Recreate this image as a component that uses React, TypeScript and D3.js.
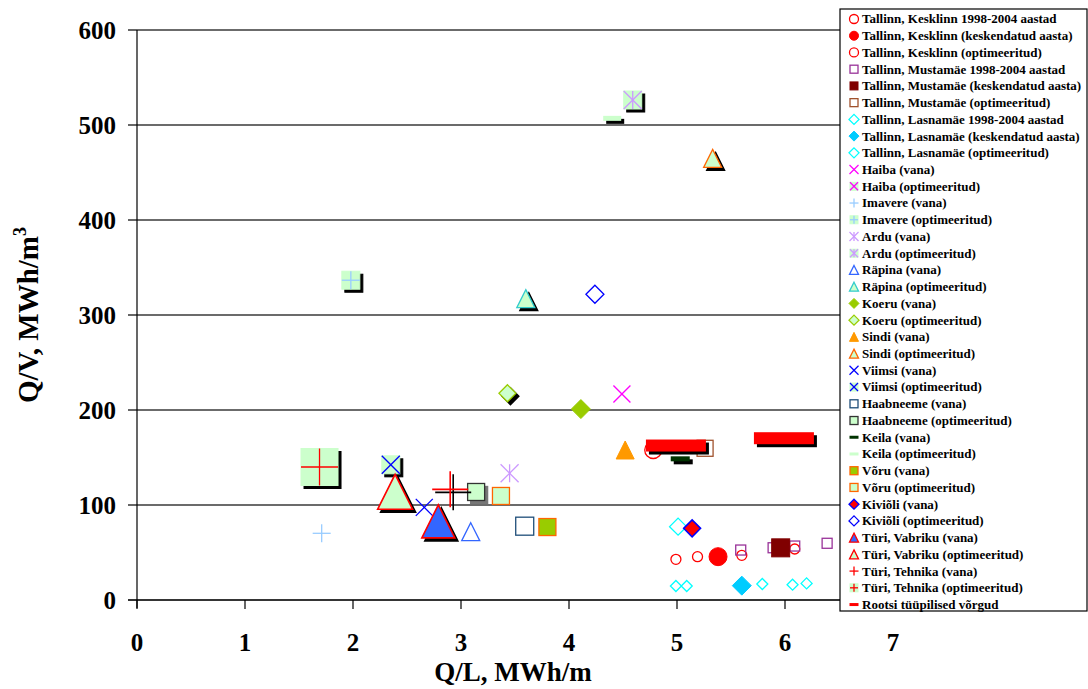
import React from 'react';
import * as d3 from 'd3';

type Pt = [number, number];

// Q/L (MWh/m) vs Q/V (MWh/m³) per district heating network
const kesklinnYears: Pt[] = [[4.99, 42.8], [5.19, 45.6], [5.6, 47.0], [6.09, 53.7]];
const kesklinnMean: Pt[] = [[5.38, 45.6]];
const kesklinnOpt: Pt[] = [[4.78, 157.9]];
const mustamaeYears: Pt[] = [[5.59, 52.6], [5.89, 55.0], [6.09, 56.8], [6.39, 59.7]];
const mustamaeMean: Pt[] = [[5.96, 54.9]];
const mustamaeOpt: Pt[] = [[5.26, 159.7]];
const lasnamaeYears: Pt[] = [[4.99, 14.7], [5.09, 14.7], [5.79, 16.8], [6.07, 16.1], [6.2, 17.5]];
const lasnamaeMean: Pt[] = [[5.6, 15.1]];
const lasnamaeOpt: Pt[] = [[5.01, 77.2]];
const haibaOld: Pt[] = [[4.49, 216.8]];
const haibaOpt: Pt[] = [];
const imavereOld: Pt[] = [[1.71, 70.2]];
const imavereOpt: Pt[] = [[1.98, 336.6]];
const arduOld: Pt[] = [[3.45, 133.4]];
const arduOpt: Pt[] = [[4.59, 526.3]];
const rapinaOld: Pt[] = [[3.09, 71.9]];
const rapinaOpt: Pt[] = [[3.6, 317.2]];
const koeruOld: Pt[] = [[4.11, 201.0]];
const koeruOpt: Pt[] = [[3.43, 217.6]];
const sindiOld: Pt[] = [[4.52, 157.9]];
const sindiOpt: Pt[] = [[5.33, 464.9]];
const viimsiOld: Pt[] = [[2.66, 97.5]];
const viimsiOpt: Pt[] = [[2.35, 142.3]];
const haabneemeOld: Pt[] = [[3.59, 77.7]];
const haabneemeOpt: Pt[] = [[3.14, 113.7]];
const keilaOld: Pt[] = [[5.03, 148.6]];
const keilaOpt: Pt[] = [[4.4, 507.0]];
const voruOld: Pt[] = [[3.8, 76.8]];
const voruOpt: Pt[] = [[3.37, 109.5]];
const kivioliOld: Pt[] = [[5.14, 75.4]];
const kivioliOpt: Pt[] = [[4.24, 321.8]];
const turiVabrikuOld: Pt[] = [[2.79, 82.8]];
const turiVabrikuOpt: Pt[] = [[2.39, 113.9]];
const turiTehnikaOld: Pt[] = [[2.9, 116.5]];
const turiTehnikaOpt: Pt[] = [[1.69, 140.0]];
const rootsi: Pt[] = [[4.99, 162.6], [5.99, 170.3]];

const xTicks = [0, 1, 2, 3, 4, 5, 6, 7];
const yTicks = [0, 100, 200, 300, 400, 500, 600];

type Shape = 'circle' | 'square' | 'diamond' | 'triangle' | 'x' | 'plus' | 'star' | 'dash';
interface Marker {
  shape: Shape;
  size: number;
  w?: number;
  h?: number;
  fill: string;
  stroke: string;
  sw?: number;
  glyph?: 'x' | 'plus' | 'star';
  glyphColor?: string;
  shadow?: string;
}

const LG = '#CCFFCC';

interface Series { name: string; data: Pt[]; m: Marker; }

const series: Series[] = [
  { name: 'Tallinn, Kesklinn 1998-2004 aastad', data: kesklinnYears, m: { shape: 'circle', size: 10, fill: 'none', stroke: '#FF0000', sw: 1.3 } },
  { name: 'Tallinn, Kesklinn (keskendatud aasta)', data: kesklinnMean, m: { shape: 'circle', size: 18, fill: '#FF0000', stroke: '#FF0000' } },
  { name: 'Tallinn, Kesklinn (optimeeritud)', data: kesklinnOpt, m: { shape: 'circle', size: 17, fill: 'none', stroke: '#FF0000', sw: 1.3 } },
  { name: 'Tallinn, Mustamäe 1998-2004 aastad', data: mustamaeYears, m: { shape: 'square', size: 10, fill: 'none', stroke: '#993399', sw: 1.3 } },
  { name: 'Tallinn, Mustamäe (keskendatud aasta)', data: mustamaeMean, m: { shape: 'square', size: 18, fill: '#800000', stroke: '#800000' } },
  { name: 'Tallinn, Mustamäe (optimeeritud)', data: mustamaeOpt, m: { shape: 'square', size: 16, fill: 'none', stroke: '#A0522D', sw: 1.3 } },
  { name: 'Tallinn, Lasnamäe 1998-2004 aastad', data: lasnamaeYears, m: { shape: 'diamond', size: 11, fill: 'none', stroke: '#00FFFF', sw: 1.3 } },
  { name: 'Tallinn, Lasnamäe (keskendatud aasta)', data: lasnamaeMean, m: { shape: 'diamond', size: 19, fill: '#00CCFF', stroke: '#00CCFF' } },
  { name: 'Tallinn, Lasnamäe (optimeeritud)', data: lasnamaeOpt, m: { shape: 'diamond', size: 17, fill: 'none', stroke: '#00FFFF', sw: 1.3 } },
  { name: 'Haiba (vana)', data: haibaOld, m: { shape: 'x', size: 17, fill: 'none', stroke: '#FF00FF', sw: 1.3 } },
  { name: 'Haiba (optimeeritud)', data: haibaOpt, m: { shape: 'square', size: 17, fill: LG, stroke: LG, glyph: 'x', glyphColor: '#FF00FF', shadow: '#000' } },
  { name: 'Imavere (vana)', data: imavereOld, m: { shape: 'plus', size: 18, fill: 'none', stroke: '#99CCFF', sw: 1.3 } },
  { name: 'Imavere (optimeeritud)', data: imavereOpt, m: { shape: 'square', size: 18, fill: LG, stroke: LG, glyph: 'plus', glyphColor: '#99CCFF', shadow: '#000' } },
  { name: 'Ardu (vana)', data: arduOld, m: { shape: 'star', size: 18, fill: 'none', stroke: '#CC99FF', sw: 1.3 } },
  { name: 'Ardu (optimeeritud)', data: arduOpt, m: { shape: 'square', size: 18, fill: LG, stroke: LG, glyph: 'star', glyphColor: '#CC99FF', shadow: '#000' } },
  { name: 'Räpina (vana)', data: rapinaOld, m: { shape: 'triangle', size: 18, fill: 'none', stroke: '#3366FF', sw: 1.3 } },
  { name: 'Räpina (optimeeritud)', data: rapinaOpt, m: { shape: 'triangle', size: 18, fill: LG, stroke: '#33CCCC', sw: 1.3, shadow: '#000' } },
  { name: 'Koeru (vana)', data: koeruOld, m: { shape: 'diamond', size: 19, fill: '#99CC00', stroke: '#99CC00' } },
  { name: 'Koeru (optimeeritud)', data: koeruOpt, m: { shape: 'diamond', size: 17, fill: LG, stroke: '#99CC00', sw: 1.3, shadow: '#000' } },
  { name: 'Sindi (vana)', data: sindiOld, m: { shape: 'triangle', size: 18, fill: '#FF9900', stroke: '#FF9900' } },
  { name: 'Sindi (optimeeritud)', data: sindiOpt, m: { shape: 'triangle', size: 18, fill: LG, stroke: '#FF6600', sw: 1.3, shadow: '#000' } },
  { name: 'Viimsi (vana)', data: viimsiOld, m: { shape: 'x', size: 17, fill: 'none', stroke: '#0000FF', sw: 1.3 } },
  { name: 'Viimsi (optimeeritud)', data: viimsiOpt, m: { shape: 'square', size: 18, fill: LG, stroke: LG, glyph: 'x', glyphColor: '#0000FF', shadow: '#000' } },
  { name: 'Haabneeme (vana)', data: haabneemeOld, m: { shape: 'square', size: 18, fill: 'none', stroke: '#1F4E79', sw: 1.3 } },
  { name: 'Haabneeme (optimeeritud)', data: haabneemeOpt, m: { shape: 'square', size: 17, fill: LG, stroke: '#333333', sw: 1.3, shadow: '#777' } },
  { name: 'Keila (vana)', data: keilaOld, m: { shape: 'dash', size: 19, w: 19, h: 5, fill: '#003300', stroke: 'none', shadow: '#000' } },
  { name: 'Keila (optimeeritud)', data: keilaOpt, m: { shape: 'dash', size: 19, w: 18, h: 5, fill: LG, stroke: 'none', shadow: '#000' } },
  { name: 'Võru (vana)', data: voruOld, m: { shape: 'square', size: 17, fill: '#99CC00', stroke: '#FF6600', sw: 1.3 } },
  { name: 'Võru (optimeeritud)', data: voruOpt, m: { shape: 'square', size: 17, fill: LG, stroke: '#FF6600', sw: 1.3 } },
  { name: 'Kiviõli (vana)', data: kivioliOld, m: { shape: 'diamond', size: 17, fill: '#FF0000', stroke: '#0000FF', sw: 1.5 } },
  { name: 'Kiviõli (optimeeritud)', data: kivioliOpt, m: { shape: 'diamond', size: 18, fill: 'none', stroke: '#0000FF', sw: 1.3 } },
  { name: 'Türi, Vabriku (vana)', data: turiVabrikuOld, m: { shape: 'triangle', size: 33, fill: '#3366FF', stroke: '#FF0000', sw: 1.6, shadow: '#000' } },
  { name: 'Türi, Vabriku (optimeeritud)', data: turiVabrikuOpt, m: { shape: 'triangle', size: 35, fill: LG, stroke: '#FF0000', sw: 1.6, shadow: '#000' } },
  { name: 'Türi, Tehnika (vana)', data: turiTehnikaOld, m: { shape: 'plus', size: 36, fill: 'none', stroke: '#FF0000', sw: 1.6, shadow: '#000' } },
  { name: 'Türi, Tehnika (optimeeritud)', data: turiTehnikaOpt, m: { shape: 'square', size: 37, fill: LG, stroke: LG, glyph: 'plus', glyphColor: '#FF0000', shadow: '#000' } },
  { name: 'Rootsi tüüpilised võrgud', data: rootsi, m: { shape: 'dash', size: 60, w: 60, h: 12, fill: '#FF0000', stroke: 'none', shadow: '#000' } },
];

const W = 1088;
const H = 689;
const plot = { left: 137, right: 893, top: 30, bottom: 600 };

const x = d3.scaleLinear().domain([0, 7]).range([plot.left, plot.right]);
const y = d3.scaleLinear().domain([0, 600]).range([plot.bottom, plot.top]);

function glyphLines(kind: 'x' | 'plus' | 'star', cx: number, cy: number, s: number, color: string, sw: number, key: string) {
  const r = s / 2;
  const lines: [number, number, number, number][] = [];
  if (kind === 'x' || kind === 'star') {
    lines.push([cx - r, cy - r, cx + r, cy + r], [cx - r, cy + r, cx + r, cy - r]);
  }
  if (kind === 'plus') {
    lines.push([cx - r, cy, cx + r, cy], [cx, cy - r, cx, cy + r]);
  }
  if (kind === 'star') {
    lines.push([cx, cy - r, cx, cy + r]);
  }
  return lines.map((l, i) => (
    <line key={`${key}-${i}`} x1={l[0]} y1={l[1]} x2={l[2]} y2={l[3]} stroke={color} strokeWidth={sw} />
  ));
}

function shapeEl(m: Marker, cx: number, cy: number, fill: string, stroke: string, key: string) {
  const s = m.size;
  const r = s / 2;
  const sw = m.sw ?? 1;
  switch (m.shape) {
    case 'circle':
      return <circle key={key} cx={cx} cy={cy} r={r} fill={fill} stroke={stroke} strokeWidth={sw} />;
    case 'square':
      return <rect key={key} x={cx - r} y={cy - r} width={s} height={s} fill={fill} stroke={stroke} strokeWidth={sw} />;
    case 'diamond':
      return <path key={key} d={`M${cx},${cy - r}L${cx + r},${cy}L${cx},${cy + r}L${cx - r},${cy}Z`} fill={fill} stroke={stroke} strokeWidth={sw} />;
    case 'triangle':
      return <path key={key} d={`M${cx},${cy - r}L${cx + r},${cy + r}L${cx - r},${cy + r}Z`} fill={fill} stroke={stroke} strokeWidth={sw} strokeLinejoin="miter" />;
    case 'dash': {
      const w = m.w ?? s;
      const h = m.h ?? 3;
      return <rect key={key} x={cx - w / 2} y={cy - h / 2} width={w} height={h} fill={fill} stroke="none" />;
    }
    default:
      return <g key={key}>{glyphLines(m.shape as 'x' | 'plus' | 'star', cx, cy, s, stroke, sw, key)}</g>;
  }
}

function renderMarker(m: Marker, cx: number, cy: number, key: string, legend = false) {
  const parts: React.ReactNode[] = [];
  const off = 3;
  if (m.shadow && !legend) {
    const sc = m.shadow;
    if (m.shape === 'x' || m.shape === 'plus' || m.shape === 'star') {
      parts.push(shapeEl(m, cx + off, cy + off, 'none', sc, `${key}-sh`));
    } else {
      parts.push(shapeEl(m, cx + off, cy + off, sc, sc, `${key}-sh`));
    }
  }
  parts.push(shapeEl(m, cx, cy, m.fill, m.stroke, `${key}-m`));
  if (m.glyph) {
    parts.push(<g key={`${key}-g`}>{glyphLines(m.glyph, cx, cy, m.size, m.glyphColor ?? '#000', 1.3, `${key}-gl`)}</g>);
  }
  return <g key={key}>{parts}</g>;
}

function legendMarker(m: Marker): Marker {
  const base = { ...m, sw: Math.min(m.sw ?? 1, 1.3) };
  switch (m.shape) {
    case 'circle': return { ...base, size: 9 };
    case 'square': return { ...base, size: 8 };
    case 'diamond': return { ...base, size: 10 };
    case 'triangle': return { ...base, size: 9 };
    case 'dash': return { ...base, size: 9, w: 9, h: 3 };
    default: return { ...base, size: 9 };
  }
}

export default function App() {
  const font = '"Liberation Serif", "Times New Roman", serif';
  const legendTop = 19;
  const legendStep = 16.73;
  return (
    <svg width={W} height={H} style={{ position: 'absolute', left: 0, top: 0, background: '#fff' }} fontFamily={font}>
      <rect x={0} y={0} width={W} height={H} fill="#fff" />
      {/* horizontal gridlines */}
      {yTicks.map((t) => (
        <line key={`g${t}`} x1={plot.left} x2={plot.right} y1={y(t)} y2={y(t)} stroke="#3a3a3a" strokeWidth={1.4} />
      ))}
      {/* axes */}
      <line x1={plot.left} x2={plot.left} y1={plot.top} y2={plot.bottom + 8} stroke="#000" strokeWidth={1.2} />
      <line x1={plot.left - 9} x2={plot.right} y1={plot.bottom} y2={plot.bottom} stroke="#000" strokeWidth={1.2} />
      {yTicks.map((t) => (
        <g key={`yt${t}`}>
          <line x1={plot.left - 9} x2={plot.left} y1={y(t)} y2={y(t)} stroke="#000" strokeWidth={1.2} />
          <text x={116} y={y(t)} dy="0.34em" textAnchor="end" fontSize={25} fontWeight="bold">{t}</text>
        </g>
      ))}
      {xTicks.map((t) => (
        <g key={`xt${t}`}>
          <line x1={x(t)} x2={x(t)} y1={plot.bottom} y2={plot.bottom + 9} stroke="#000" strokeWidth={1.2} />
          <text x={x(t)} y={651} textAnchor="middle" fontSize={25} fontWeight="bold">{t}</text>
        </g>
      ))}
      <text x={(plot.left + plot.right) / 2 - 2} y={681} textAnchor="middle" fontSize={27} fontWeight="bold">Q/L, MWh/m</text>
      <text transform={`translate(38,${(plot.top + plot.bottom) / 2}) rotate(-90)`} textAnchor="middle" fontSize={29} fontWeight="bold">
        Q/V, MWh/m<tspan fontSize={18} dy={-12}>3</tspan>
      </text>

      {/* data series */}
      {series.map((s, si) => (
        <g key={`s${si}`}>
          {s.data.map((d, di) => renderMarker(s.m, x(d[0]), y(d[1]), `p${si}-${di}`))}
        </g>
      ))}

      {/* legend */}
      <rect x={840} y={9} width={W - 841} height={602} fill="#fff" stroke="#000" strokeWidth={1.2} />
      {series.map((s, i) => {
        const cy = legendTop + i * legendStep;
        return (
          <g key={`l${i}`}>
            {renderMarker(legendMarker(s.m), 854, cy, `lm${i}`, true)}
            <text x={862} y={cy} dy="0.34em" fontSize={13} fontWeight="bold">{s.name}</text>
          </g>
        );
      })}
    </svg>
  );
}
